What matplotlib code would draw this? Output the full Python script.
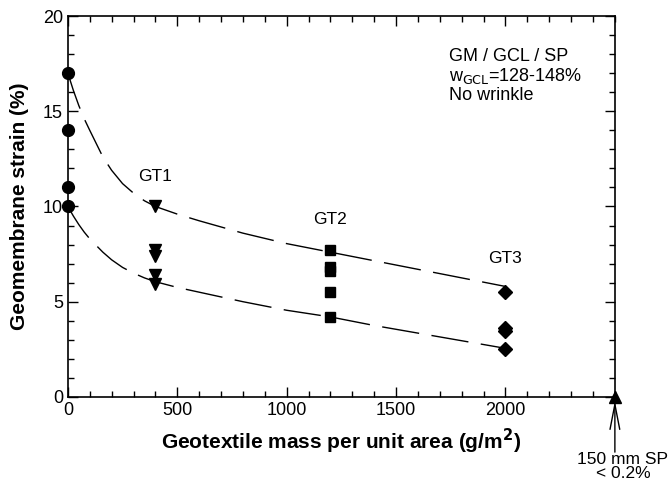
import matplotlib.pyplot as plt
from matplotlib.ticker import MultipleLocator

plt.rcParams['font.family'] = ['Liberation Sans', 'DejaVu Sans']

# measured strains (%) for each geotextile mass (g/m2)
no_gt_x = [0, 0, 0, 0]
no_gt_y = [17.0, 14.0, 11.0, 10.0]
gt1_x = [400, 400, 400, 400, 400]
gt1_y = [10.0, 7.7, 7.4, 6.4, 5.95]
gt2_x = [1200, 1200, 1200, 1200, 1200]
gt2_y = [7.7, 6.8, 6.6, 5.5, 4.2]
gt3_x = [2000, 2000, 2000, 2000]
gt3_y = [5.5, 3.6, 3.45, 2.5]
sp_x = [2500]
sp_y = [0.0]

# dashed trend curves
upper_x = [0, 25, 50, 75, 100, 130, 160, 200, 250, 300, 350, 400, 500, 600,
           800, 1000, 1200, 1400, 1600, 1800, 2000]
upper_y = [17.0, 16.1, 15.3, 14.6, 14.0, 13.3, 12.6, 11.9, 11.2, 10.7, 10.3,
           10.0, 9.6, 9.25, 8.6, 8.05, 7.6, 7.15, 6.7, 6.25, 5.8]
lower_x = [0, 25, 50, 75, 100, 130, 160, 200, 250, 300, 350, 400, 500, 600,
           800, 1000, 1200, 1400, 1600, 1800, 2000]
lower_y = [10.0, 9.5, 9.05, 8.65, 8.3, 7.95, 7.6, 7.2, 6.8, 6.5, 6.25, 6.05,
           5.75, 5.5, 5.0, 4.55, 4.2, 3.75, 3.35, 2.95, 2.55]

fig = plt.figure(figsize=(6.72, 4.87), dpi=100)
ax = fig.add_axes([0.101, 0.185, 0.814, 0.782])

ax.plot(upper_x, upper_y, color='black', lw=1.0, dashes=(27, 9))
ax.plot(lower_x, lower_y, color='black', lw=1.0, dashes=(27, 9))

ax.plot(no_gt_x, no_gt_y, 'o', color='black', ms=8.5, clip_on=False, zorder=5)
ax.plot(gt1_x, gt1_y, 'v', color='black', ms=8, zorder=5)
ax.plot(gt2_x, gt2_y, 's', color='black', ms=6.5, zorder=5)
ax.plot(gt3_x, gt3_y, 'D', color='black', ms=7, zorder=5)
ax.plot(sp_x, sp_y, '^', color='black', ms=9, clip_on=False, zorder=5)

ax.text(400, 11.55, 'GT1', ha='center', va='center', fontsize=12.5)
ax.text(1200, 9.3, 'GT2', ha='center', va='center', fontsize=12.5)
ax.text(2000, 7.25, 'GT3', ha='center', va='center', fontsize=12.5)
ax.text(1741, 18.3, 'GM / GCL / SP\nw$_{\\mathrm{GCL}}$=128-148%\nNo wrinkle',
        ha='left', va='top', fontsize=13, linespacing=1.05)

ax.annotate('', xy=(2500, -0.2), xytext=(2500, -2.9),
            arrowprops=dict(arrowstyle='->,head_length=1.8,head_width=0.35',
                            color='black', lw=1.0, shrinkA=0, shrinkB=0),
            annotation_clip=False)
ax.text(2537, -2.9, '150 mm SP\n< 0.2%', ha='center', va='top',
        fontsize=12.5, linespacing=0.9, clip_on=False)

ax.set_xlim(0, 2500)
ax.set_ylim(0, 20)
ax.xaxis.set_minor_locator(MultipleLocator(100))
ax.yaxis.set_major_locator(MultipleLocator(5))
ax.yaxis.set_minor_locator(MultipleLocator(1))
ax.set_xticks([0, 500, 1000, 1500, 2000])
ax.tick_params(which='both', direction='in', top=True, right=True, labelsize=13)
ax.tick_params(which='major', length=7, width=1)
ax.tick_params(which='minor', length=4, width=1)
for s in ax.spines.values():
    s.set_linewidth(1.2)

ax.set_xlabel('Geotextile mass per unit area (g/m$^\\mathbf{2}$)',
              fontsize=15, fontweight='bold', labelpad=6)
ax.set_ylabel('Geomembrane strain (%)', fontsize=15, fontweight='bold', labelpad=10)

fig.savefig('out.png', dpi=100)
